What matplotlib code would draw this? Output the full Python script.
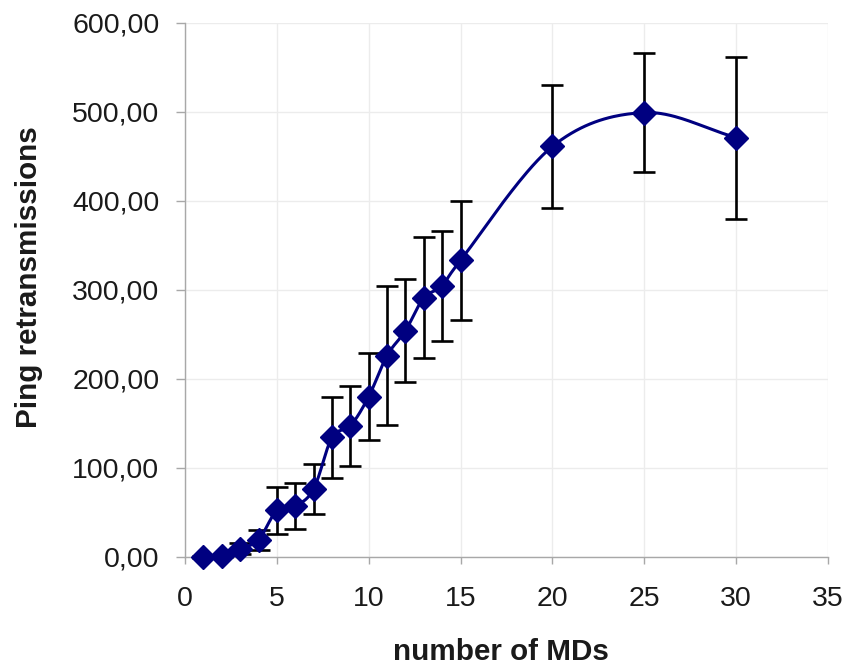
import numpy as np
import matplotlib
matplotlib.use("Agg")
import matplotlib.pyplot as plt
from matplotlib.ticker import FuncFormatter

# Data
num_mds = [1, 2, 3, 4, 5, 6, 7, 8, 9, 10, 11, 12, 13, 14, 15, 20, 25, 30]
retrans = [0, 1, 9, 19, 52, 57, 76, 134, 147, 180, 226, 254, 291, 304, 333, 461, 499, 471]
err = [1, 1, 6, 11, 26, 26, 28, 45, 45, 49, 78, 58, 68, 62, 67, 69, 67, 91]

x_ticks = [0, 5, 10, 15, 20, 25, 30, 35]
y_ticks = [0, 100, 200, 300, 400, 500, 600]

plt.rcParams['font.family'] = ['Liberation Sans', 'DejaVu Sans']


def smooth_curve(xs, ys, n=40):
    """Catmull-Rom style smoothing (like a spreadsheet 'smoothed line')."""
    xs = np.asarray(xs, float)
    ys = np.asarray(ys, float)
    px = np.concatenate([[2 * xs[0] - xs[1]], xs, [2 * xs[-1] - xs[-2]]])
    py = np.concatenate([[2 * ys[0] - ys[1]], ys, [2 * ys[-1] - ys[-2]]])
    ox, oy = [], []
    for i in range(1, len(px) - 2):
        p0 = np.array([px[i - 1], py[i - 1]])
        p1 = np.array([px[i], py[i]])
        p2 = np.array([px[i + 1], py[i + 1]])
        p3 = np.array([px[i + 2], py[i + 2]])
        c1 = p1 + (p2 - p0) / 6.0
        c2 = p2 - (p3 - p1) / 6.0
        t = np.linspace(0, 1, n)[:, None]
        b = ((1 - t) ** 3) * p1 + 3 * ((1 - t) ** 2) * t * c1 + 3 * (1 - t) * t ** 2 * c2 + t ** 3 * p2
        ox.extend(b[:, 0])
        oy.extend(b[:, 1])
    return np.array(ox), np.array(oy)


fig = plt.figure(figsize=(8.46, 6.68), dpi=100)
ax = fig.add_axes([0.2187, 0.1666, 0.7600, 0.7994])

eb = ax.errorbar(num_mds, retrans, yerr=err, fmt='none', ecolor='black',
                 elinewidth=1.9, capsize=8, capthick=1.9, zorder=2)
for artist in eb.lines[1] + eb.lines[2]:
    artist.set_clip_on(False)
sx, sy = smooth_curve(num_mds, retrans)
ax.plot(sx, sy, color='#000080', lw=2.2, zorder=3, clip_on=False)
ax.plot(num_mds, retrans, linestyle='none', marker='D', markersize=12,
        color='#000080', zorder=4, clip_on=False)

ax.set_xlim(0, 35)
ax.set_ylim(0, 600)
ax.set_xticks(x_ticks)
ax.set_yticks(y_ticks)
ax.yaxis.set_major_formatter(FuncFormatter(lambda v, p: f"{v:.2f}".replace('.', ',')))

ax.grid(True, color='#ececec', linewidth=1.0, zorder=0)
ax.set_axisbelow(True)
for s in ['top', 'right']:
    ax.spines[s].set_visible(False)
for s in ['left', 'bottom']:
    ax.spines[s].set_color('#a8a8a8')
    ax.spines[s].set_linewidth(1.0)
ax.tick_params(axis='both', colors='#a8a8a8', labelcolor='#1a1a1a',
               labelsize=20.5, width=1.0, direction='out')
ax.tick_params(axis='x', length=5, pad=16)
ax.tick_params(axis='y', length=6.5, pad=12)

ax.set_xlabel('number of MDs', fontsize=21.3, fontweight='bold', color='#1a1a1a')
ax.set_ylabel('Ping retransmissions', fontsize=21.3, fontweight='bold', color='#1a1a1a')
ax.xaxis.set_label_coords(0.491, -0.152)
ax.yaxis.set_label_coords(-0.221, 0.523)

fig.savefig('out.png', dpi=100)
